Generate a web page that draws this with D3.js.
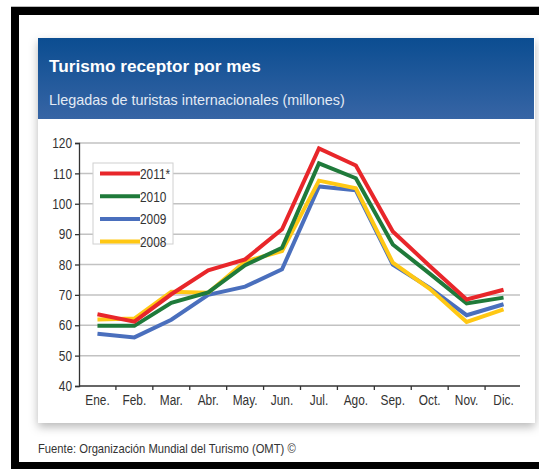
<!DOCTYPE html>
<html><head><meta charset="utf-8">
<script src="https://cdn.jsdelivr.net/npm/d3@7"></script>
<style>html,body{margin:0;padding:0;background:#fff;}svg{display:block;}</style>
</head><body>
<script>
const months = ["Ene.","Feb.","Mar.","Abr.","May.","Jun.","Jul.","Ago.","Sep.","Oct.","Nov.","Dic."];
const seriesNames = ["2011*","2010","2009","2008"];
const seriesColors = ["#e8262a","#1f7a3a","#4a6fbd","#ffc814"];
const v2011 = [63.6,61.2,70.2,78.1,81.7,91.6,118.2,112.6,90.9,79.5,68.5,71.7];
const v2010 = [59.8,59.8,67.4,70.8,79.8,85.5,113.3,108.4,86.6,77.0,67.2,69.1];
const v2009 = [57.2,56.0,61.8,70.0,72.7,78.4,105.7,104.4,80.0,72.3,63.3,66.9];
const v2008 = [61.9,62.2,71.0,70.7,81.0,84.4,107.6,105.1,80.6,72.0,61.1,65.2];
const seriesValues = [v2011, v2010, v2009, v2008];
const yTicks = [40,50,60,70,80,90,100,110,120];

const W = 539, H = 469;
const SX = 0.82;
const svg = d3.select("body").append("svg").attr("width", W).attr("height", H);
const defs = svg.append("defs");
const grad = defs.append("linearGradient").attr("id","hdr").attr("x1",0).attr("y1",0).attr("x2",0).attr("y2",1);
grad.append("stop").attr("offset","0%").attr("stop-color","#0b4d91");
grad.append("stop").attr("offset","100%").attr("stop-color","#3765a5");
const filt = defs.append("filter").attr("id","sh").attr("x","-10%").attr("y","-10%").attr("width","120%").attr("height","125%");
filt.append("feDropShadow").attr("dx",0).attr("dy",4).attr("stdDeviation",5).attr("flood-color","#000").attr("flood-opacity",0.28);

// outer frame
svg.append("rect").attr("x",11).attr("y",7).attr("width",W).attr("height",8).attr("fill","#000");
svg.append("rect").attr("x",11).attr("y",7).attr("width",8).attr("height",H).attr("fill","#000");
svg.append("rect").attr("x",11).attr("y",462).attr("width",W).attr("height",8).attr("fill","#000");
svg.append("line").attr("x1",11).attr("x2",W).attr("y1",6.5).attr("y2",6.5).attr("stroke","#bbb");

// card
svg.append("rect").attr("x",38).attr("y",38).attr("width",497).attr("height",385).attr("fill","#fff").attr("filter","url(#sh)");
svg.append("rect").attr("x",38).attr("y",38).attr("width",496).attr("height",81).attr("fill","url(#hdr)");
svg.append("text").attr("x",49).attr("y",72).attr("fill","#fff").attr("font-family","Liberation Sans, Arial, sans-serif")
  .attr("font-weight","bold").attr("font-size",17.2).text("Turismo receptor por mes");
svg.append("text").attr("transform","translate(49,105) scale(0.96,1)").attr("fill","#e3eaf4").attr("font-family","Liberation Sans, Arial, sans-serif")
  .attr("font-size",15).text("Llegadas de turistas internacionales (millones)");

const font = "Liberation Sans, Arial, sans-serif";
// footer
svg.append("text").attr("transform",`translate(38,453) scale(0.85,1)`).attr("fill","#333").attr("font-family",font)
  .attr("font-size",13.2).text("Fuente: Organización Mundial del Turismo (OMT) ©");

// scales
const x = d3.scaleBand().domain(months).range([79, 522]).padding(0);
const y = d3.scaleLinear().domain([40,120]).range([386,143]);

// gridlines
svg.append("g").selectAll("line").data(yTicks.filter(d=>d>40)).join("line")
  .attr("x1",79).attr("x2",520).attr("y1",d=>y(d)).attr("y2",d=>y(d))
  .attr("stroke","#c2c2c2").attr("stroke-width",1.5);

// y axis
const yAxis = svg.append("g").attr("transform","translate(79,0)")
  .call(d3.axisLeft(y).tickValues(yTicks).tickSize(4).tickPadding(4));
yAxis.select(".domain").attr("stroke","#333").attr("stroke-width",1.3);
yAxis.selectAll(".tick line").attr("stroke","#333").attr("stroke-width",1.3);
yAxis.selectAll("text").attr("font-family",font).attr("font-size",14.5).attr("fill","#333")
  .attr("x",-7/SX).attr("transform",`scale(${SX},1)`);

// x axis
const xAxis = svg.append("g").attr("transform","translate(0,386)")
  .call(d3.axisBottom(x).tickSize(0).tickPadding(10));
xAxis.select(".domain").attr("d","M79,0H520").attr("stroke","#333").attr("stroke-width",1.5);
xAxis.selectAll("text").attr("font-family",font).attr("font-size",14.5).attr("fill","#333").attr("dy","0.6em")
  .attr("transform",`scale(${SX},1)`);
svg.append("g").selectAll("line").data(months.slice(1)).join("line")
  .attr("x1",d=>x(d)).attr("x2",d=>x(d)).attr("y1",386).attr("y2",390)
  .attr("stroke","#333").attr("stroke-width",1.3);

// lines
const line = d3.line().x((d,i)=>x(months[i])+x.bandwidth()/2).y(d=>y(d));
const order = [2,3,1,0];
svg.append("g").selectAll("path").data(order).join("path")
  .attr("d",k=>line(seriesValues[k])).attr("fill","none")
  .attr("stroke",k=>seriesColors[k]).attr("stroke-width",4).attr("stroke-linejoin","miter");

// legend
const lg = svg.append("g");
lg.append("rect").attr("x",93).attr("y",163).attr("width",80).attr("height",81).attr("fill","#fff").attr("stroke","#d0d0d0");
const items = lg.selectAll("g.it").data(seriesNames).join("g").attr("class","it")
  .attr("transform",(d,i)=>`translate(0,${173.5+i*22.7})`);
items.append("line").attr("x1",100).attr("x2",140).attr("y1",0).attr("y2",0)
  .attr("stroke",(d,i)=>seriesColors[i]).attr("stroke-width",4);
items.append("text").attr("transform",`translate(140,5.5) scale(${SX},1)`).attr("font-family",font).attr("font-size",14.5).attr("fill","#333").text(d=>d);
</script>
</body></html>
